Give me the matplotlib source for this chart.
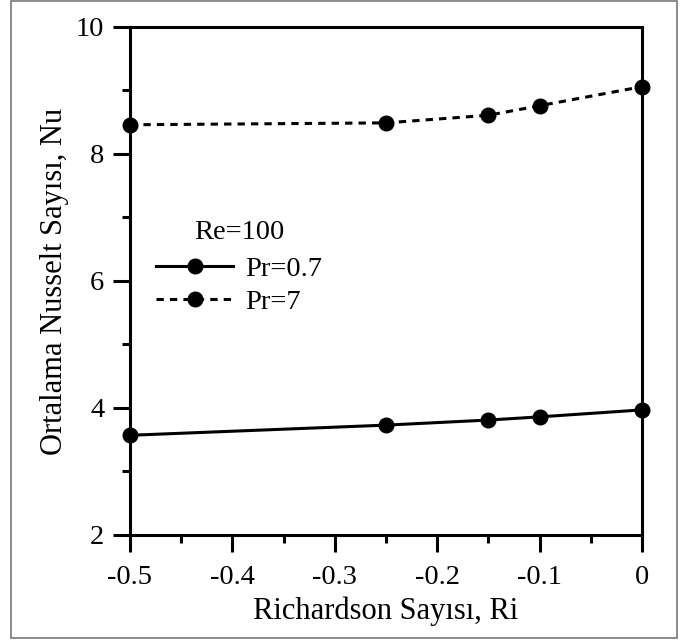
import matplotlib
matplotlib.use('Agg')
import matplotlib.pyplot as plt
from matplotlib.patches import Rectangle
from matplotlib.ticker import MultipleLocator

# Data
ri = [-0.5, -0.25, -0.15, -0.1, 0.0]
nu_pr07 = [3.57, 3.73, 3.81, 3.86, 3.97]
nu_pr7 = [8.46, 8.49, 8.61, 8.76, 9.06]

xticks = [-0.5, -0.4, -0.3, -0.2, -0.1, 0]
xtick_labels = ['-0.5', '-0.4', '-0.3', '-0.2', '-0.1', '0']
yticks = [2, 4, 6, 8, 10]

plt.rcParams['font.family'] = ['Liberation Serif', 'DejaVu Serif']

fig = plt.figure(figsize=(6.83, 6.41), dpi=100)
ax = fig.add_axes([0.1903, 0.1654, 0.7497, 0.7925])

ax.plot(ri, nu_pr07, '-', color='black', lw=2.2, marker='o', ms=10.5,
        label='Pr=0.7', clip_on=False, zorder=3)
ax.plot(ri, nu_pr7, color='black', lw=2.2, ls=(0, (2.4, 2.0)), marker='o', ms=10.5,
        label='Pr=7', clip_on=False, zorder=3)

ax.set_xlim(-0.5, 0)
ax.set_ylim(2, 10)
ax.set_xticks(xticks)
ax.set_xticklabels(xtick_labels)
ax.set_yticks(yticks)
ax.xaxis.set_minor_locator(MultipleLocator(0.05))
ax.yaxis.set_minor_locator(MultipleLocator(1))

for s in ax.spines.values():
    s.set_linewidth(2.2)
ax.tick_params(which='major', direction='out', length=12.5, width=2.2,
               labelsize=20.5, pad=6)
ax.tick_params(axis='x', which='major', pad=9)
ax.tick_params(which='minor', direction='out', length=6, width=2.2)

ax.set_xlabel('Richardson Sayısı, Ri', fontsize=22, labelpad=5)
ax.set_ylabel('Ortalama Nusselt Sayısı, Nu', fontsize=22, labelpad=5)

leg = ax.legend(title='Re=100', loc='upper left', bbox_to_anchor=(0.051, 0.62),
                frameon=False, fontsize=20.5, title_fontsize=20.5,
                handlelength=2.7, handletextpad=0.42, labelspacing=0.25,
                borderpad=0, borderaxespad=0)
leg._legend_box.sep = 8

# thin gray border around the whole picture
fig.patches.append(Rectangle((11 / 683, 3 / 641), 666 / 683, 637 / 641,
                             transform=fig.transFigure, fill=False,
                             edgecolor='#777777', lw=1.2))

plt.savefig('out.png', dpi=100)
plt.close()
